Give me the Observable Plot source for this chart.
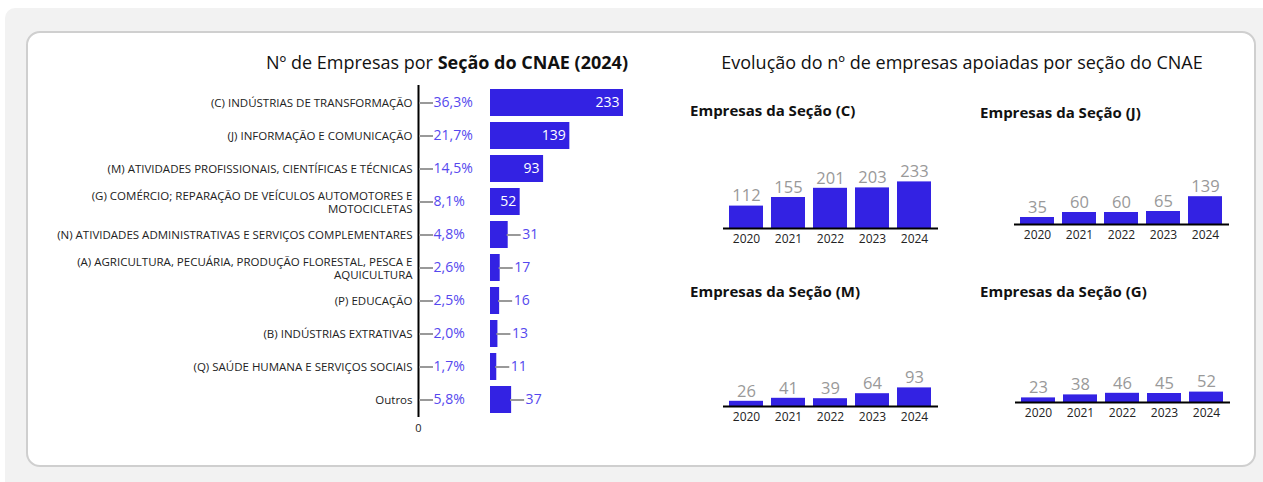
<!DOCTYPE html>
<html><head><meta charset="utf-8">
<script src="https://cdn.jsdelivr.net/npm/d3@7"></script>
<script src="https://cdn.jsdelivr.net/npm/@observablehq/plot@0.6"></script>
<style>
html,body{margin:0;padding:0;background:#fff;width:1263px;height:482px;overflow:hidden;font-family:"Open Sans",sans-serif;}
#bg{position:absolute;left:5px;top:8px;width:1280px;height:500px;background:#f2f2f2;border-radius:10px;}
#card{position:absolute;left:26px;top:31px;width:1226px;height:432px;background:#fff;border:2px solid #cfcfcf;border-radius:14px;}
.abs{position:absolute;}
.title{font-size:18px;line-height:24px;color:#111;white-space:nowrap;transform:translateX(-50%);}
.ptitle{font-size:15px;line-height:20px;font-weight:700;color:#111;white-space:nowrap;}
svg{overflow:visible;}
</style></head><body>
<div id="bg"></div><div id="card"></div>
<div class="abs title" style="left:447px;top:50px;">Nº de Empresas por <b>Seção do CNAE (2024)</b></div>
<div class="abs title" style="left:962px;top:50px;">Evolução do nº de empresas apoiadas por seção do CNAE</div>
<div class="abs ptitle" style="left:690px;top:100px;">Empresas da Seção (C)</div>
<div class="abs ptitle" style="left:980px;top:102px;">Empresas da Seção (J)</div>
<div class="abs ptitle" style="left:690px;top:281px;">Empresas da Seção (M)</div>
<div class="abs ptitle" style="left:980px;top:281px;">Empresas da Seção (G)</div>
<div class="abs" id="left" style="left:30px;top:80px;"></div>
<div class="abs" id="pC" style="left:715px;top:138px;"></div>
<div class="abs" id="pJ" style="left:1006px;top:134px;"></div>
<div class="abs" id="pM" style="left:715px;top:316px;"></div>
<div class="abs" id="pG" style="left:1007px;top:312px;"></div>
<script>
// ---- data ----
const categories = [
  "(C) INDÚSTRIAS DE TRANSFORMAÇÃO",
  "(J) INFORMAÇÃO E COMUNICAÇÃO",
  "(M) ATIVIDADES PROFISSIONAIS, CIENTÍFICAS E TÉCNICAS",
  "(G) COMÉRCIO; REPARAÇÃO DE VEÍCULOS AUTOMOTORES E\nMOTOCICLETAS",
  "(N) ATIVIDADES ADMINISTRATIVAS E SERVIÇOS COMPLEMENTARES",
  "(A) AGRICULTURA, PECUÁRIA, PRODUÇÃO FLORESTAL, PESCA E\nAQUICULTURA",
  "(P) EDUCAÇÃO",
  "(B) INDÚSTRIAS EXTRATIVAS",
  "(Q) SAÚDE HUMANA E SERVIÇOS SOCIAIS",
  "Outros"
];
const counts2024 = [233, 139, 93, 52, 31, 17, 16, 13, 11, 37];
const shares2024 = [36.3, 21.7, 14.5, 8.1, 4.8, 2.6, 2.5, 2.0, 1.7, 5.8];

const years = ["2020", "2021", "2022", "2023", "2024"];
const sectionC = [112, 155, 201, 203, 233];
const sectionJ = [35, 60, 60, 65, 139];
const sectionM = [26, 41, 39, 64, 93];
const sectionG = [23, 38, 46, 45, 52];

// ---- styles ----
const BAR = "#3322e3";
const LABEL = "#5548ee";
const LEADER = "#999";
const FONT = "'Open Sans', sans-serif";

// ---- left chart ----
const rows = categories.map((c, i) => ({cat: c, count: counts2024[i], share: shares2024[i]}));
const xMax = d3.max(counts2024);
const x0 = 388, x1 = 521;            // pixel range of the x scale
const unitsPerPx = xMax / (x1 - x0);
const gap = 72;                       // gap between axis and bars (px)
const lead = 14 * unitsPerPx;
const inside = rows.filter(d => d.count >= 50);
const outside = rows.filter(d => d.count < 50);
const fmtShare = v => v.toFixed(1).replace(".", ",") + "%";

const left = Plot.plot({
  width: 630, height: 362,
  marginTop: 5, marginBottom: 25, marginLeft: x0, marginRight: 630 - x1,
  style: {fontFamily: FONT, background: "none", overflow: "visible"},
  x: {domain: [0, xMax], range: [x0, x1], axis: null},
  y: {domain: categories, paddingInner: 0.19, paddingOuter: 0.1, axis: null},
  marks: [
    Plot.barX(rows, {y: "cat", x: "count", fill: BAR, dx: gap}),
    Plot.ruleX([0], {stroke: "#000", strokeWidth: 2}),
    Plot.axisY({tickSize: 0, tickPadding: 6, fontSize: 11.5, lineHeight: 1.2, color: "#222", label: null}),
    Plot.axisX({ticks: [0], tickSize: 0, tickPadding: 7, fontSize: 11, color: "#222", label: null}),
    Plot.ruleY(rows, {y: "cat", x1: 0, x2: lead, dx: 1, stroke: LEADER, strokeWidth: 2}),
    Plot.text(rows, {y: "cat", x: 0, dx: 15, text: d => fmtShare(d.share), textAnchor: "start", fill: LABEL, fontSize: 14}),
    Plot.text(inside, {y: "cat", x: "count", dx: gap - 4, text: d => String(d.count), textAnchor: "end", fill: "#fff", fontSize: 14}),
    Plot.ruleY(outside, {y: "cat", x1: "count", x2: d => d.count + lead, dx: gap - 1, stroke: LEADER, strokeWidth: 2}),
    Plot.text(outside, {y: "cat", x: "count", dx: gap + 14, text: d => String(d.count), textAnchor: "start", fill: LABEL, fontSize: 14})
  ]
});
document.getElementById("left").append(left);

// ---- small panels ----
function panel(values) {
  const data = years.map((y, i) => ({year: y, value: values[i]}));
  return Plot.plot({
    width: 230, height: 115,
    marginLeft: 8, marginRight: 7, marginTop: 10, marginBottom: 25,
    style: {fontFamily: FONT, background: "none", overflow: "visible"},
    x: {domain: years, paddingInner: 0.19, paddingOuter: 0.1, axis: null},
    y: {domain: [0, 400], axis: null},
    marks: [
      Plot.barY(data, {x: "year", y: "value", fill: BAR}),
      Plot.ruleY([0], {stroke: "#000", strokeWidth: 2}),
      Plot.text(data, {x: "year", y: "value", text: d => String(d.value), dy: -10, fill: "#999", fontSize: 16.5}),
      Plot.axisX({tickSize: 0, tickPadding: 6, fontSize: 12, color: "#222", label: null})
    ]
  });
}
document.getElementById("pC").append(panel(sectionC));
document.getElementById("pJ").append(panel(sectionJ));
document.getElementById("pM").append(panel(sectionM));
document.getElementById("pG").append(panel(sectionG));
</script>
</body></html>
